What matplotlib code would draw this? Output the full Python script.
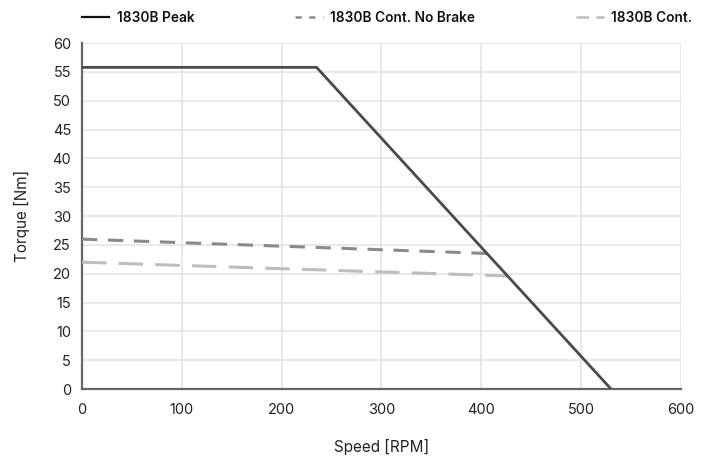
import matplotlib
matplotlib.use("Agg")
import matplotlib.pyplot as plt
from matplotlib.lines import Line2D

plt.rcParams['font.family'] = ['Inter', 'DejaVu Sans']

# Torque-speed curves
peak_speed = [0, 235, 530]
peak_torque = [55.8, 55.8, 0]

nobrake_speed = [0, 408]
nobrake_torque = [26.0, 23.5]

cont_speed = [0, 427]
cont_torque = [22.0, 19.6]

series_names = ["1830B Peak", "1830B Cont. No Brake", "1830B Cont."]
x_ticks = [0, 100, 200, 300, 400, 500, 600]
y_ticks = list(range(0, 61, 5))

c_peak = "#4a4a4a"
c_nobrake = "#8a8a8a"
c_cont = "#bdbdbd"

fig = plt.figure(figsize=(7.13, 4.59), dpi=100)
ax = fig.add_axes([0.115, 0.1525, 0.840, 0.7535])

ax.plot(nobrake_speed, nobrake_torque, color=c_nobrake, lw=2.2,
        dashes=(5, 3.5), solid_capstyle='butt', zorder=3)
ax.plot(cont_speed, cont_torque, color=c_cont, lw=2.2,
        dashes=(8, 4), zorder=3)
ax.plot(peak_speed, peak_torque, color=c_peak, lw=2.0, zorder=4)

ax.set_xlim(0, 600)
ax.set_ylim(0, 60)
ax.set_xticks(x_ticks)
ax.set_yticks(y_ticks)
ax.grid(True, color="#e4e4e4", lw=1.2)
ax.set_axisbelow(True)
for s in ("top", "right"):
    ax.spines[s].set_visible(False)
for s in ("left", "bottom"):
    ax.spines[s].set_color("#666666")
    ax.spines[s].set_linewidth(1.6)
ax.tick_params(length=0, labelsize=10.5, colors="#222222", pad=8)
ax.tick_params(axis='x', pad=10)

ax.set_xlabel("Speed [RPM]", fontsize=11, color="#222222", labelpad=16)
ax.set_ylabel("Torque [Nm]", fontsize=11, color="#222222", labelpad=16)

# Top legend, one entry per series
handles = [
    Line2D([], [], color="#111111", lw=1.6),
    Line2D([], [], color=c_nobrake, lw=1.8, dashes=(2.5, 3)),
    Line2D([], [], color=c_cont, lw=1.8, dashes=(5, 3)),
]
xpos = [0.115, 0.414, 0.808]
for h, name, x in zip(handles, series_names, xpos):
    fig.legend([h], [name], loc='center left', bbox_to_anchor=(x, 0.961),
               frameon=False, handlelength=2.0, handletextpad=0.55,
               borderaxespad=0, borderpad=0, labelcolor="#111111",
               prop={'weight': 'semibold', 'size': 9.9})

fig.savefig("out.png", dpi=100, facecolor="white")
